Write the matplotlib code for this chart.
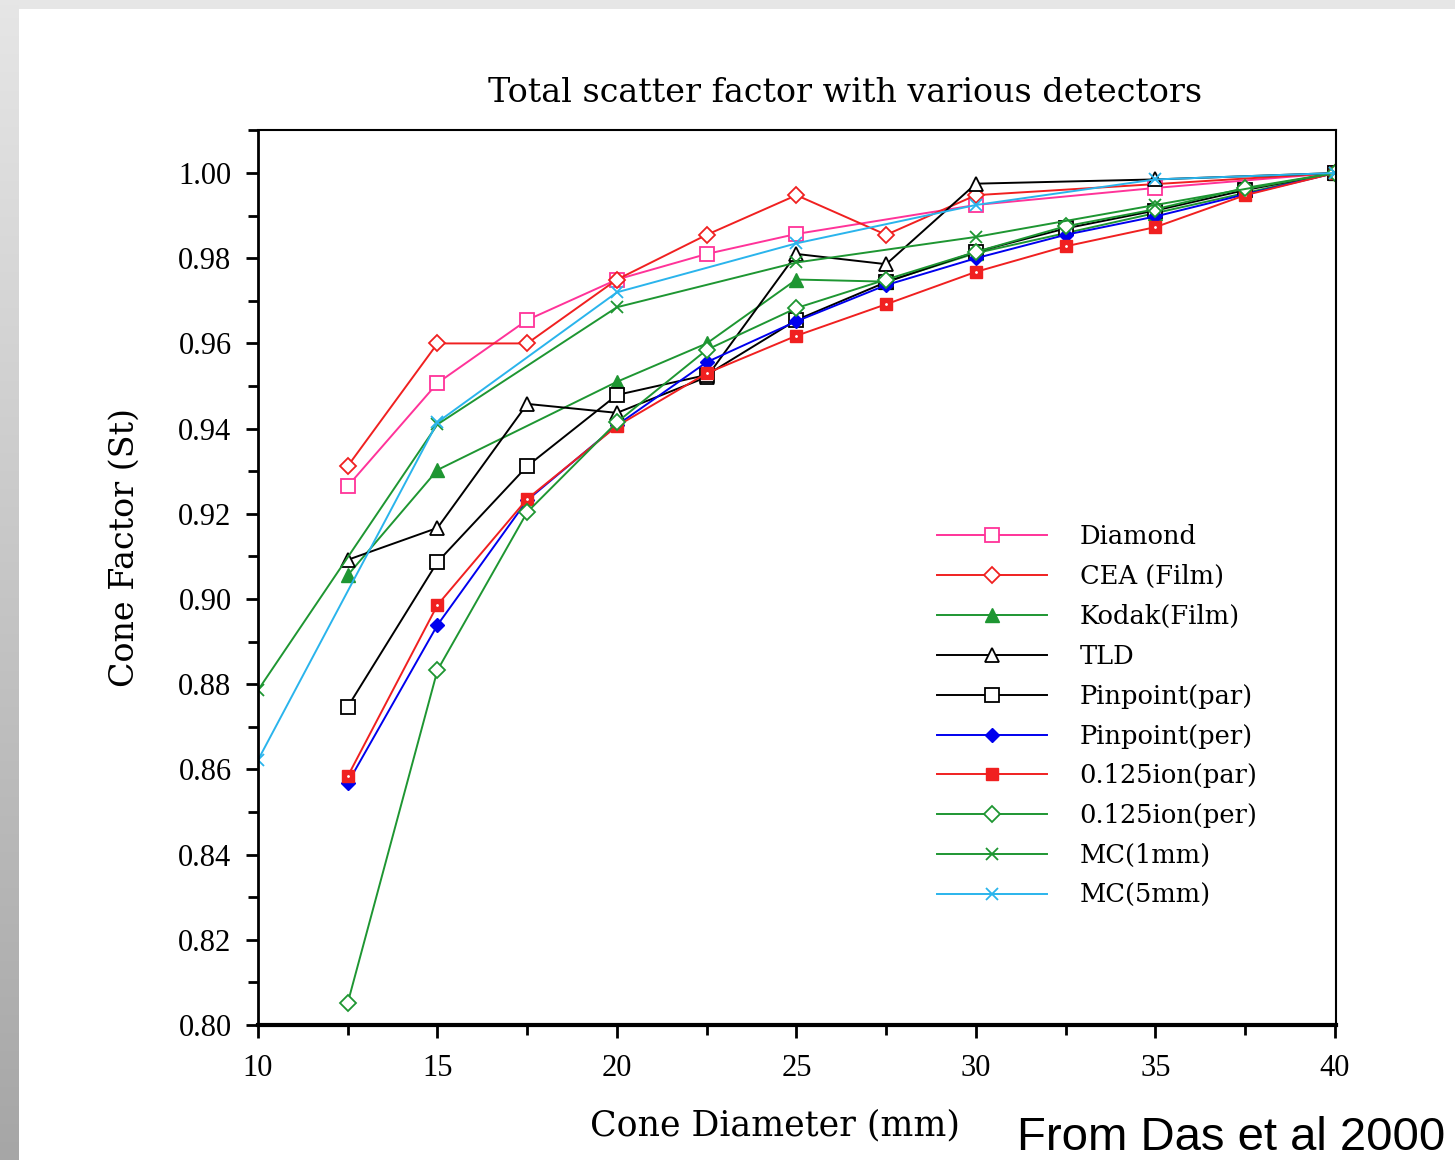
#! /usr/bin/env python
# Total scatter factor vs cone diameter for several detectors (Das et al 2000)

import numpy as np
import matplotlib
matplotlib.use('Agg')
import matplotlib.pyplot as plt
from matplotlib.ticker import MultipleLocator, FormatStrFormatter

# cone diameters (mm)
cones = [12.5, 15, 17.5, 20, 22.5, 25, 27.5, 30, 32.5, 35, 37.5, 40]
mc_cones = [10, 15, 20, 25, 30, 35, 40]

diamond_x = [12.5, 15, 17.5, 20, 22.5, 25, 30, 35, 40]
diamond_y = [0.9265, 0.9507, 0.9655, 0.975, 0.981, 0.9857, 0.9925, 0.9965, 1.0]

cea_x = [12.5, 15, 17.5, 20, 22.5, 25, 27.5, 30, 40]
cea_y = [0.9312, 0.960, 0.960, 0.975, 0.9855, 0.9948, 0.9855, 0.9948, 1.0]

kodak_x = [12.5, 15, 20, 22.5, 25, 27.5, 30, 35, 40]
kodak_y = [0.9056, 0.9303, 0.951, 0.960, 0.975, 0.9745, 0.9812, 0.9906, 1.0]

tld_x = [12.5, 15, 17.5, 20, 22.5, 25, 27.5, 30, 35, 40]
tld_y = [0.9092, 0.9167, 0.9458, 0.9437, 0.9521, 0.981, 0.9786, 0.9975, 0.9985, 1.0]

pp_par = [0.8747, 0.9087, 0.9312, 0.9479, 0.9526, 0.9655, 0.9744, 0.9815, 0.987, 0.9912, 0.996, 1.0]
pp_per = [0.8568, 0.8939, 0.9232, 0.9408, 0.9556, 0.9652, 0.9737, 0.980, 0.9855, 0.9898, 0.995, 1.0]
ion_par = [0.8584, 0.8986, 0.9235, 0.9406, 0.953, 0.9618, 0.9692, 0.9768, 0.9828, 0.9873, 0.9948, 1.0]
ion_per = [0.8052, 0.8833, 0.9204, 0.9415, 0.9585, 0.9683, 0.975, 0.9815, 0.9875, 0.9915, 0.9965, 1.0]

mc1 = [0.8786, 0.941, 0.9685, 0.979, 0.985, 0.9925, 1.0]
mc5 = [0.8622, 0.9415, 0.972, 0.9835, 0.9925, 0.9985, 1.0]

# colours
pink = '#ff3399'
red = '#f02020'
green = '#1e9632'
blue = '#0000ee'
cyan = '#2ab4ec'

serif = 'DejaVu Serif'
tick_serif = 'Liberation Serif'
W, H = 1455, 1160

fig = plt.figure(figsize=(W / 100, H / 100), dpi=100, facecolor='white')

# grey frame round the slide: top band and left gradient strip
band = fig.add_axes([0, 1 - 9 / H, 1, 9 / H])
band.set_facecolor('#e6e6e6')
band.set_xticks([])
band.set_yticks([])
for s in band.spines.values():
    s.set_visible(False)

strip = fig.add_axes([0, 0, 19 / W, 1])
grad = np.linspace(0, 1, 256).reshape(-1, 1)
strip.imshow(grad, cmap=matplotlib.colors.LinearSegmentedColormap.from_list('g', ['#e6e6e6', '#a6a6a6']),
             aspect='auto', extent=[0, 1, 0, 1])
strip.axis('off')

ax = fig.add_axes([258 / W, 1 - 1025 / H, (1336 - 258) / W, (1025 - 130) / H])

lw = 1.4
ax.plot(diamond_x, diamond_y, color=pink, lw=lw, marker='s', ms=10, mfc='white', mec=pink, mew=1.3, label='Diamond')
ax.plot(cea_x, cea_y, color=red, lw=lw, marker='D', ms=8, mfc='white', mec=red, mew=1.3, label='CEA (Film)')
ax.plot(kodak_x, kodak_y, color=green, lw=lw, marker='^', ms=10, mfc=green, mec=green, label='Kodak(Film)')
ax.plot(tld_x, tld_y, color='black', lw=lw, marker='^', ms=10, mfc='white', mec='black', mew=1.3, label='TLD')
ax.plot(cones, pp_par, color='black', lw=lw, marker='s', ms=10, mfc='white', mec='black', mew=1.3, label='Pinpoint(par)')
ax.plot(cones, pp_per, color=blue, lw=lw, marker='D', ms=7, mfc=blue, mec=blue, label='Pinpoint(per)')
ax.plot(cones, ion_par, color=red, lw=lw, marker='s', ms=8, mfc=red, mec=red, label='0.125ion(par)')
ax.plot(cones, ion_par, ls='none', marker='.', ms=2, color='white', label='_nolegend_')
ax.plot(cones, ion_per, color=green, lw=lw, marker='D', ms=8, mfc='white', mec=green, mew=1.3, label='0.125ion(per)')
ax.plot(mc_cones, mc1, color=green, lw=lw, marker='x', ms=8, mew=1.3, label='MC(1mm)')
ax.plot(mc_cones, mc5, color=cyan, lw=lw, marker='x', ms=9, mew=1.3, label='MC(5mm)')

ax.set_xlim(10, 40.03)
ax.set_ylim(0.80, 1.0101)

ax.xaxis.set_major_locator(MultipleLocator(5))
ax.xaxis.set_minor_locator(MultipleLocator(2.5))
ax.yaxis.set_major_locator(MultipleLocator(0.02))
ax.yaxis.set_minor_locator(MultipleLocator(0.01))
ax.yaxis.set_major_formatter(FormatStrFormatter('%.2f'))

ax.tick_params(which='both', direction='out', width=2, color='black')
ax.tick_params(which='major', length=9)
ax.tick_params(which='minor', length=7)
ax.tick_params(axis='x', pad=12)
ax.tick_params(axis='y', pad=10)
for lab in ax.get_xticklabels() + ax.get_yticklabels():
    lab.set_fontfamily(tick_serif)
    lab.set_fontsize(22)

ax.spines['left'].set_linewidth(2)
ax.spines['bottom'].set_linewidth(3)
ax.spines['top'].set_linewidth(1.5)
ax.spines['right'].set_linewidth(1.5)

fig.text(845 / W, 1 - 93 / H, 'Total scatter factor with various detectors', family=serif,
         fontsize=24, ha='center', va='center')
fig.text(775 / W, 1 - 1125 / H, 'Cone Diameter (mm)', family=serif, fontsize=25, ha='center', va='center')
fig.text(125 / W, 1 - 548 / H, 'Cone Factor (St)', family=serif, fontsize=24, ha='center', va='center',
         rotation=90)
fig.text(1017 / W, 1 - 1138 / H, 'From Das et al 2000', family='Liberation Sans', fontsize=34,
         ha='left', va='center')

leg = ax.legend(loc='upper left', bbox_to_anchor=(937 / W, 1 - 524 / H), bbox_transform=fig.transFigure,
                frameon=False, borderpad=0, borderaxespad=0, handlelength=4.3, handletextpad=1.25,
                labelspacing=0.58, prop={'family': serif, 'size': 18.5})

fig.savefig('out.png', dpi=100, facecolor='white')
